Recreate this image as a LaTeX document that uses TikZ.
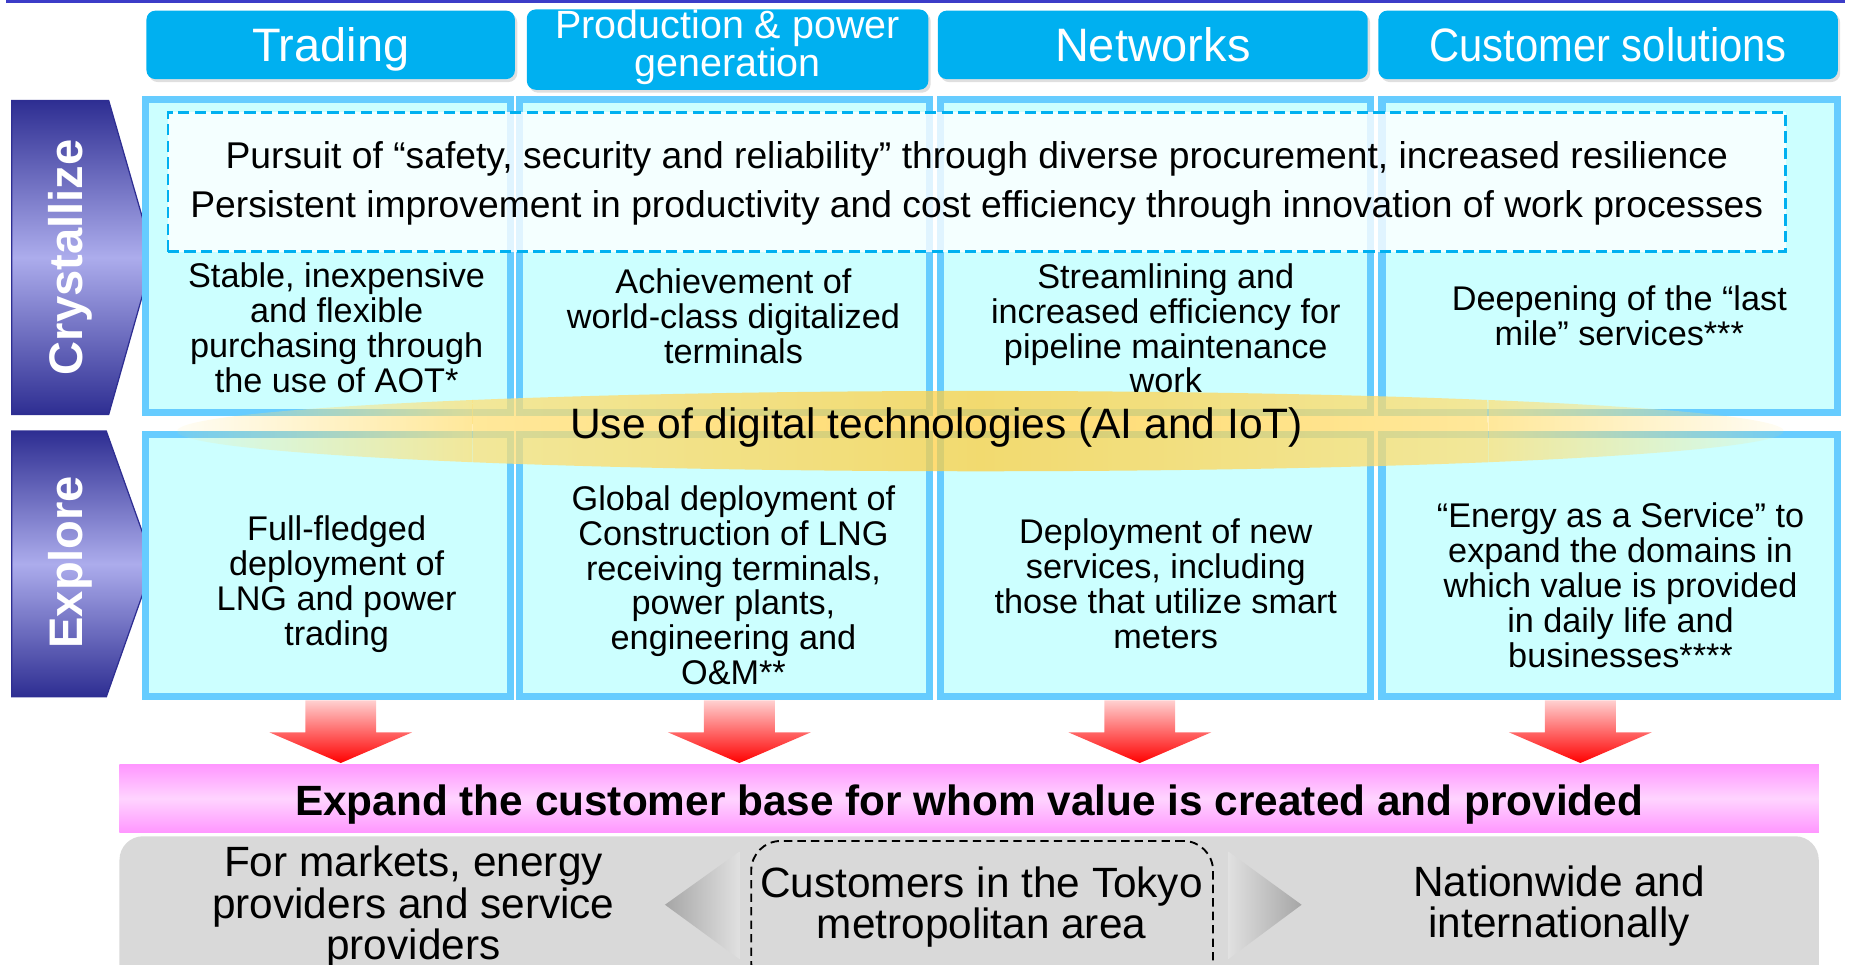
\documentclass[tikz,border=0pt]{standalone}
\usepackage{fontspec}
\setmainfont{Liberation Sans}
\usetikzlibrary{positioning, fadings, shadows}

\definecolor{hdrblue}{RGB}{0,176,240}
\definecolor{cellfill}{RGB}{204,255,255}
\definecolor{cellline}{RGB}{102,204,255}
\definecolor{navy}{RGB}{46,46,146}
\definecolor{lavender}{RGB}{172,172,236}
\definecolor{digiorange}{RGB}{255,206,64}
\definecolor{digiyellow}{RGB}{255,224,120}
\definecolor{bandpink}{RGB}{255,150,255}
\definecolor{bandlight}{RGB}{255,212,255}
\definecolor{arrowtop}{RGB}{255,208,208}
\definecolor{basegrey}{RGB}{217,217,217}
\definecolor{toplinec}{RGB}{60,60,200}

\tikzfading[name=fadeleft, left color=transparent!100, right color=transparent!0]
\tikzfading[name=faderight, left color=transparent!0, right color=transparent!100]

\tikzstyle{header} = [rectangle, rounded corners=0.15cm, inner sep=0pt, fill=hdrblue, text=white, drop shadow={opacity=0.25, shadow xshift=0.04cm, shadow yshift=-0.05cm}, font=\fontsize{22.6}{20}\selectfont, text depth=0pt]
\tikzstyle{headertext} = [text=white, align=center, font=\fontsize{19}{17}\selectfont]
\tikzstyle{cell} = [rectangle, inner sep=0pt, draw=cellline, line width=0.12cm, fill=cellfill]
\tikzstyle{celltext} = [align=center, inner sep=0pt, font=\fontsize{16.5}{16.8}\selectfont]
\tikzstyle{commonbox} = [rectangle, inner sep=0pt, draw=hdrblue, line width=1.3pt, dash pattern=on 5.5pt off 2.5pt, fill=white, fill opacity=0.8]
\tikzstyle{phase} = [text=white, rotate=90, text depth=0pt, font=\bfseries\fontsize{22.7}{24}\selectfont]
\tikzstyle{band} = [rectangle, inner sep=0pt, top color=bandpink, bottom color=bandpink, middle color=bandlight, text height=16.9pt, text depth=0pt, font=\bfseries\fontsize{20.4}{22}\selectfont]
\tikzstyle{basetext} = [align=center, inner sep=0pt, font=\fontsize{20.4}{19.9}\selectfont]
\tikzstyle{redarrow} = [top color=arrowtop, bottom color=red]
\tikzstyle{lens} = [x radius=13.6cm, y radius=0.68cm]

\begin{document}
\begin{tikzpicture}[x=0.02cm, y=-0.02cm]
\useasboundingbox (0,0) rectangle (1568,817);
\clip (0,0) rectangle (1568,817);
\draw [toplinec, line width=2pt] (5,1.2) -- (1562,1.2);

\node (trading) [header, minimum width=6.24cm, minimum height=1.16cm] at (280,38) {Trading};
\node (prod) [header, minimum width=6.8cm, minimum height=1.36cm] at (616,42) {};
\node (prodtxt) [headertext] at (616,40) {Production \& power\\generation};
\node (networks) [header, minimum width=7.28cm, minimum height=1.16cm] at (976,38) {Networks};
\node (custsol) [header, minimum width=7.78cm, minimum height=1.16cm] at (1361.5,38) {\scalebox{0.89}[1]{Customer solutions}};

\shadedraw [top color=navy, bottom color=navy, middle color=lavender, draw=navy, line width=0.6pt] (10,85) -- (92,85) -- (130,217) -- (92,351) -- (10,351) -- cycle;
\shadedraw [top color=navy, bottom color=navy, middle color=lavender, draw=navy, line width=0.6pt] (10,365) -- (90,365) -- (130,477) -- (90,590) -- (10,590) -- cycle;
\node (cryst) [phase] at (55,218) {Crystallize};
\node (explore) [phase] at (55,476) {Explore};

\node (cry1) [cell, minimum width=6.18cm, minimum height=5.3cm] at (277.5,216.5) {};
\node (cry2) [cell, minimum width=6.94cm, minimum height=5.3cm] at (613.5,216.5) {};
\node (cry3) [cell, minimum width=7.28cm, minimum height=5.3cm] at (978,216.5) {};
\node (cry4) [cell, minimum width=7.72cm, minimum height=5.3cm] at (1363,216.5) {};
\node (exp1) [cell, minimum width=6.18cm, minimum height=4.44cm] at (277.5,479) {};
\node (exp2) [cell, minimum width=6.94cm, minimum height=4.44cm] at (613.5,479) {};
\node (exp3) [cell, minimum width=7.28cm, minimum height=4.44cm] at (978,479) {};
\node (exp4) [cell, minimum width=7.72cm, minimum height=4.44cm] at (1363,479) {};

\node (common) [commonbox, minimum width=27.4cm, minimum height=2.36cm] at (827,154) {};
\node (commontxt) [align=center, inner sep=0pt, font=\fontsize{17.95}{23.6}\selectfont] at (827,155) {Pursuit of “safety, security and reliability” through diverse procurement, increased resilience\\Persistent improvement in productivity and cost efficiency through innovation of work processes};

\fill [digiyellow, opacity=0.75, path fading=fadeleft] (400,338.65) arc [start angle=129.2, end angle=230.8, lens] -- cycle;
\shade [left color=digiyellow, right color=digiyellow, middle color=digiorange, opacity=0.75] (400,338.65) arc [start angle=129.2, end angle=50.8, lens] -- (1260,391.35) arc [start angle=-50.8, end angle=-129.2, lens] -- cycle;
\fill [digiyellow, opacity=0.75, path fading=faderight] (1260,338.65) arc [start angle=50.8, end angle=-50.8, lens] -- cycle;

\node (cry1txt) [celltext] at (285,277.5) {Stable, inexpensive\\and flexible\\purchasing through\\the use of AOT*};
\node (cry2txt) [celltext] at (621,268) {Achievement of\\world-class digitalized\\terminals};
\node (cry3txt) [celltext] at (987,278) {Streamlining and\\increased efficiency for\\pipeline maintenance\\work};
\node (cry4txt) [celltext] at (1371,267) {Deepening of the “last\\mile” services***};
\node (digital) [font=\fontsize{20.5}{22}\selectfont] at (793,362) {Use of digital technologies (AI and IoT)};
\node (exp1txt) [celltext] at (285,494.5) {Full-fledged\\deployment of\\LNG and power\\trading};
\node (exp2txt) [celltext] at (621,495.5) {Global deployment of\\Construction of LNG\\receiving terminals,\\power plants,\\engineering and\\O\&M**};
\node (exp3txt) [celltext] at (987,494) {Deployment of new\\services, including\\those that utilize smart\\meters};
\node (exp4txt) [celltext] at (1372,495.5) {“Energy as a Service” to\\expand the domains in\\which value is provided\\in daily life and\\businesses****};

\shade [redarrow] (258.5,593) -- (318.5,593) -- (318.5,620) -- (349,620) -- (288.5,646) -- (228,620) -- (258.5,620) -- cycle;
\shade [redarrow] (596,593) -- (656,593) -- (656,620) -- (686.5,620) -- (626,646) -- (565.5,620) -- (596,620) -- cycle;
\shade [redarrow] (935,593) -- (995,593) -- (995,620) -- (1025.5,620) -- (965,646) -- (904.5,620) -- (935,620) -- cycle;
\shade [redarrow] (1308,593) -- (1368,593) -- (1368,620) -- (1398.5,620) -- (1338,646) -- (1277.5,620) -- (1308,620) -- cycle;

\node (base) [band, minimum width=28.78cm, minimum height=1.16cm] at (820.5,676) {Expand the customer base for whom value is created and provided};

\node (reach) [rectangle, rounded corners=0.4cm, fill=basegrey, minimum width=28.78cm, minimum height=2.6cm] at (820.5,773) {};
\node (tokyo) [rectangle, rounded corners=0.5cm, draw=black, line width=0.9pt, dash pattern=on 4pt off 2.5pt, minimum width=7.82cm, minimum height=2.56cm] at (831.5,776) {};
\shade [left color=black!35, right color=black!12] (563,766) -- (626,721) -- (626,812) -- cycle;
\shade [left color=black!12, right color=black!35] (1040,721) -- (1102,766) -- (1040,812) -- cycle;
\node (markets) [basetext] at (350,768) {For markets, energy\\providers and service\\providers};
\node (tokyotxt) [basetext] at (831,768) {Customers in the Tokyo\\metropolitan area};
\node (nation) [basetext] at (1320,767) {Nationwide and\\internationally};
\end{tikzpicture}
\end{document}
